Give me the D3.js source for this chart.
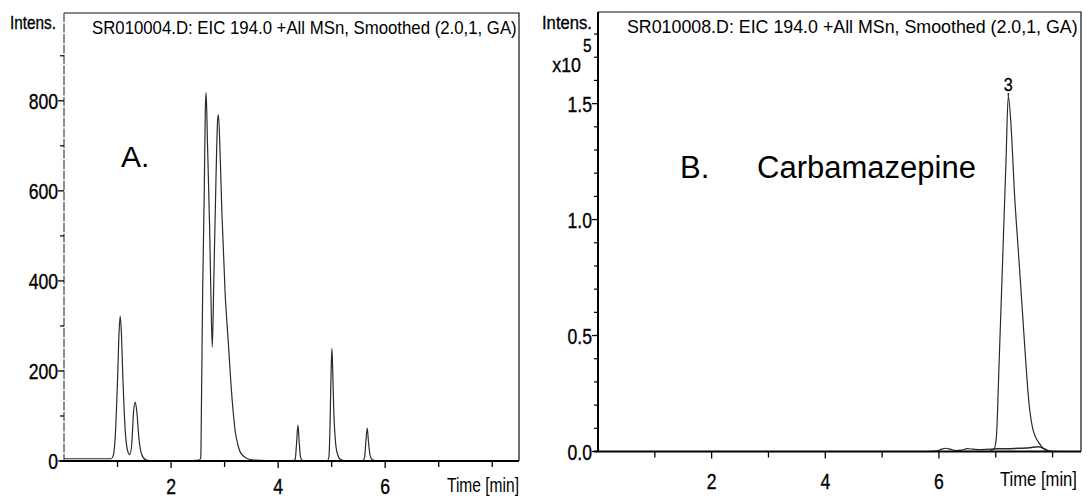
<!DOCTYPE html>
<html><head><meta charset="utf-8">
<script src="https://cdn.jsdelivr.net/npm/d3@7"></script>
<style>
html,body{margin:0;padding:0;background:#fff;}
svg{display:block;}
text{font-family:'Liberation Sans',Arial,sans-serif;fill:#000;}
</style></head>
<body>
<svg id="chart" width="1087" height="498"></svg>
<script>
// ---------- DATA ----------
const titleA = "SR010004.D: EIC 194.0 +All MSn, Smoothed (2.0,1, GA)";
const titleB = "SR010008.D: EIC 194.0 +All MSn, Smoothed (2.0,1, GA)";
const xTickLabels = [2, 4, 6];
const xMinorTicks = [1, 2, 3, 4, 5, 6, 7, 8];
const yTicksA = [0, 200, 400, 600, 800];
const yMinorA = [100, 300, 500, 700, 900];
const yTicksB = [0.0, 0.5, 1.0, 1.5];
const yMinorB = [0.1,0.2,0.3,0.4,0.6,0.7,0.8,0.9,1.1,1.2,1.3,1.4,1.6,1.7,1.8];

// Panel A trace: time (min) and intensity
const timeA = [0,0.2,0.4,0.6,0.8,0.88,0.92,0.96,1.0,1.03,1.05,1.07,1.1,1.14,1.19,1.23,1.27,1.3,1.33,1.36,1.4,1.45,1.52,1.6,2.0,2.4,2.53,2.555,2.57,2.59,2.62,2.64,2.655,2.68,2.72,2.75,2.77,2.8,2.84,2.87,2.885,2.92,2.95,3.01,3.07,3.12,3.16,3.2,3.25,3.3,3.41,3.55,3.8,4.2,4.29,4.32,4.345,4.37,4.395,4.42,4.46,4.55,4.8,4.92,4.95,4.97,4.99,5.005,5.02,5.04,5.07,5.11,5.16,5.24,5.5,5.58,5.615,5.64,5.665,5.69,5.72,5.76,5.82,6.5,7.5,8.5];
const intensA = [5,5,5,5,5,5,12,60,180,290,322,290,185,75,22,14,45,110,131,110,50,15,3,1,1,1,2,8,151,373,596,780,818,707,520,336,253,409,631,758,769,669,551,373,262,170,110,65,35,18,6,2,1,1,1,5,40,80,40,8,1,1,1,1,10,80,200,250,200,110,45,15,4,1,1,1,8,45,73,40,12,3,1,1,1,1];

// Panel B trace: time (min) and intensity (x10^5)
const timeB = [0,2,4,5.8,5.95,6.05,6.12,6.2,6.3,6.4,6.5,6.6,6.75,6.9,6.97,7.01,7.06,7.12,7.18,7.22,7.27,7.33,7.41,7.47,7.53,7.58,7.65,7.77,7.91,8.1,8.5];
const intensB = [0,0,0,0,0.002,0.01,0.014,0.01,0.004,0.006,0.012,0.01,0.008,0.01,0.012,0.06,0.39,0.82,1.25,1.534,1.40,1.11,0.82,0.6,0.38,0.22,0.10,0.034,0.004,0,0];
// second low trace in panel B
const timeB2 = [6.9,7.0,7.2,7.4,7.6,7.75,7.85,7.92];
const intensB2 = [0.005,0.012,0.012,0.014,0.016,0.02,0.012,0.003];

// ---------- DRAW ----------
const svg = d3.select("#chart");

function ctxt(g, x, y, s, size, anchor, sx, bold){
  const t = g.append("text")
    .attr("transform", `translate(${x},${y}) scale(${sx || 0.8},1)`)
    .attr("font-size", size).attr("text-anchor", anchor || "start").text(s);
  if (bold) t.attr("stroke", "#000").attr("stroke-width", 0.35);
  return t;
}
// text squeezed horizontally to a given width (via transform)
function ltxt(g, x, y, s, size, len){
  const t = g.append("text").attr("font-size", size).text(s);
  const w = t.node().getComputedTextLength() || len;
  t.attr("transform", `translate(${x},${y}) scale(${len / w},1)`);
  return t;
}
function ptxt(g, x, y, s, size){
  return g.append("text").attr("x", x).attr("y", y).attr("font-size", size).text(s);
}

function panel(cfg){
  const g = svg.append("g");
  const x = d3.scaleLinear().domain([0, 8.5]).range([cfg.x0, cfg.x1]);
  const y = d3.scaleLinear().domain([0, cfg.yMax]).range([cfg.yb, cfg.yt]);

  const cid = "clip" + cfg.id;
  svg.append("clipPath").attr("id", cid).append("rect")
    .attr("x", cfg.x0).attr("y", cfg.yt).attr("width", cfg.x1 - cfg.x0).attr("height", cfg.yb - cfg.yt);

  g.append("path").attr("d", `M${cfg.x0},${cfg.yt}H${cfg.x1}V${cfg.yb}`)
    .attr("fill", "none").attr("stroke", "#111").attr("stroke-width", 1.2);

  const line = d3.line().x(d => x(d[0])).y(d => y(d[1])).curve(d3.curveMonotoneX);
  cfg.traces.forEach(tr => {
    g.append("path").attr("clip-path", `url(#${cid})`)
      .attr("d", line(d3.zip(tr.t, tr.v)))
      .attr("fill", "none").attr("stroke", tr.color || "#2a2a2a").attr("stroke-width", tr.w || 1.2);
  });

  g.append("line").attr("x1", cfg.x0).attr("x2", cfg.x0).attr("y1", cfg.yt).attr("y2", cfg.yb)
    .attr("stroke", cfg.yAxisColor).attr("stroke-width", cfg.yAxisW)
    .attr("stroke-dasharray", cfg.yDash || null);
  g.append("line").attr("x1", cfg.x0 - 4).attr("x2", cfg.x1).attr("y1", cfg.yb).attr("y2", cfg.yb)
    .attr("stroke", "#000").attr("stroke-width", 2.2);

  xMinorTicks.forEach(v => {
    g.append("line").attr("x1", x(v)).attr("x2", x(v)).attr("y1", cfg.yb).attr("y2", cfg.yb + (xTickLabels.includes(v) ? 7 : 6))
      .attr("stroke", "#000").attr("stroke-width", 1.3);
  });
  xTickLabels.forEach(v => ctxt(g, x(v), cfg.xLabY, String(v), 22, "middle", 0.8, true));
  ltxt(g, cfg.timeX, cfg.timeY, "Time [min]", 21, cfg.timeLen);

  cfg.yMinor.forEach(v => {
    g.append("line").attr("x1", cfg.x0 - 4).attr("x2", cfg.x0).attr("y1", y(v)).attr("y2", y(v))
      .attr("stroke", "#000").attr("stroke-width", 1.2);
  });
  cfg.yTicks.forEach(v => {
    g.append("line").attr("x1", cfg.x0 - 6).attr("x2", cfg.x0).attr("y1", y(v)).attr("y2", y(v))
      .attr("stroke", "#000").attr("stroke-width", 1.3);
    ctxt(g, cfg.x0 - 6, y(v) + 8, cfg.fmt(v), 22, "end", 0.8, true);
  });

  ltxt(g, cfg.intX, 29, "Intens.", 18, cfg.intLen).attr("stroke", "#000").attr("stroke-width", 0.3);
  ltxt(g, cfg.titleX, cfg.titleY, cfg.title, 18, cfg.titleLen);
  return {g, x, y};
}

const A = panel({
  id: "A", x0: 64, x1: 519, yt: 13, yb: 461, yMax: 995,
  yTicks: yTicksA, yMinor: yMinorA, fmt: d3.format("d"),
  yAxisColor: "#444", yAxisW: 1.2, yDash: "9,1.5",
  traces: [{t: timeA, v: intensA}],
  xLabY: 494, timeX: 447, timeY: 492, timeLen: 72,
  intX: 10, intLen: 46, title: titleA, titleX: 92, titleY: 34, titleLen: 425
});
ptxt(A.g, 121, 167, "A.", 30);

const B = panel({
  id: "B", x0: 598, x1: 1081, yt: 12, yb: 451.5, yMax: 1.895,
  yTicks: yTicksB, yMinor: yMinorB, fmt: d3.format(".1f"),
  yAxisColor: "#000", yAxisW: 2,
  traces: [{t: timeB, v: intensB}, {t: timeB2, v: intensB2, w: 1.5}],
  xLabY: 489, timeX: 1000, timeY: 486, timeLen: 77,
  intX: 542, intLen: 50, title: titleB, titleX: 627, titleY: 33, titleLen: 451
});
ctxt(B.g, 581, 72, "x10", 21, "end", 0.85, true);
ctxt(B.g, 583, 52, "5", 18, "start", 0.85, true);
ptxt(B.g, 680, 178, "B.", 31);
ltxt(B.g, 757, 178, "Carbamazepine", 31, 219);

const apexI = intensB.indexOf(d3.max(intensB));
ctxt(B.g, B.x(timeB[apexI]), 91, "3", 19, "middle", 0.85, true);
B.g.append("line").attr("x1", B.x(timeB[apexI])).attr("x2", B.x(timeB[apexI]))
  .attr("y1", 93).attr("y2", B.y(intensB[apexI]))
  .attr("stroke", "#000").attr("stroke-width", 1.2);
</script>
</body></html>
